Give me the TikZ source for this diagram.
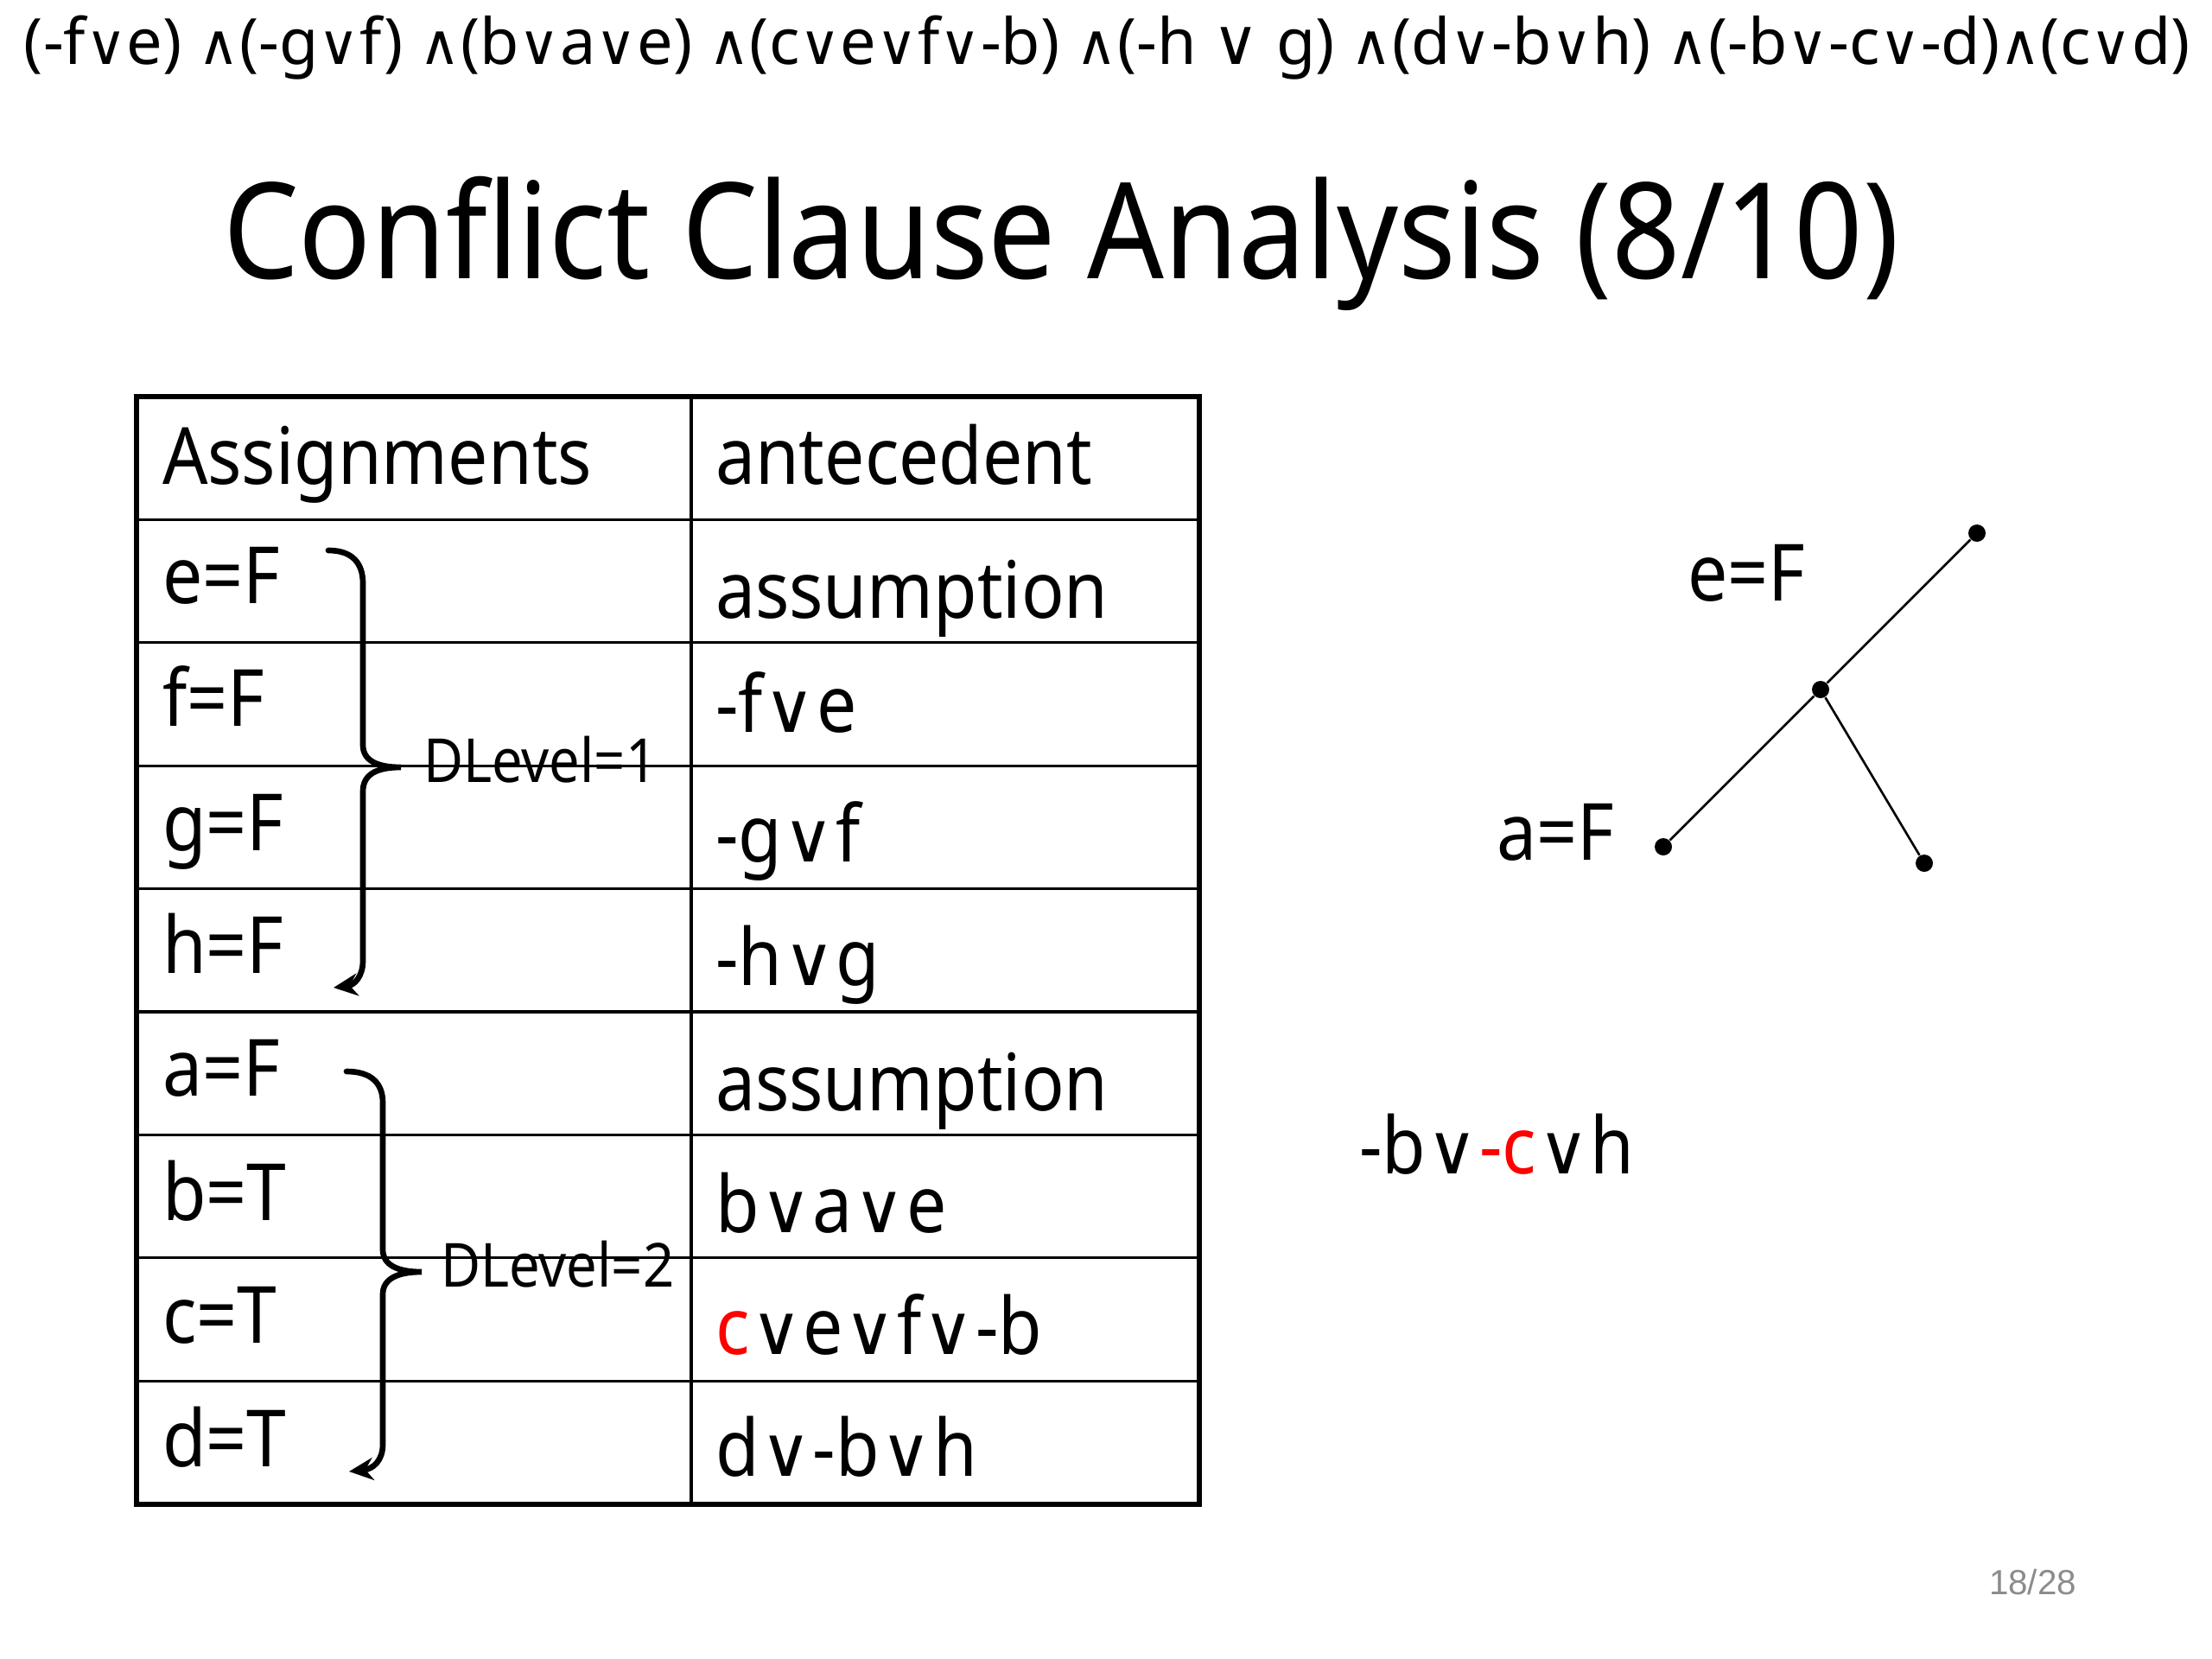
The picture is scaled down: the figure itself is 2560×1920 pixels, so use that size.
\documentclass[tikz,border=0pt]{standalone}
\usepackage{fontspec}
\setmainfont[FakeStretch=0.9]{Noto Sans}
\newfontfamily\plainfont{Noto Sans}
\newfontfamily\symfont[Scale=0.88]{DejaVu Sans}
\newfontfamily\bigsymfont{DejaVu Sans}
\newfontfamily\pagefont{Liberation Sans}
\newcommand{\orv}{{\kern0.02em\symfont ∨\kern0.02em}}
\newcommand{\orf}{{\symfont ∨}}
\newcommand{\andv}{{\symfont ∧}}
\usepackage{tikz}
\usetikzlibrary{positioning}
\usetikzlibrary{arrows.meta}
\definecolor{pagegray}{gray}{0.55}
\tikzset{
    txt/.style = {anchor=base west, inner sep=0pt, outer sep=0pt},
    asg/.style = {txt, font=\fontsize{26}{30}\selectfont},
    ante/.style = {txt, font=\fontsize{26}{30}\selectfont},
    dlvl/.style = {txt, font=\fontsize{20}{24}\selectfont},
    dot/.style = {circle, fill=black, inner sep=0pt, minimum size=2mm},
    edgen/.style = {line width=0.75pt},
    tblout/.style = {line width=1.9pt},
    tblin/.style = {line width=0.9pt},
    bracearr/.style = {line width=1.9pt, -{Stealth[length=2.8mm,width=2.6mm]}, line cap=round}
}

\begin{document}
\begin{tikzpicture}[x=0.1mm, y=-0.1mm]
  \useasboundingbox (0,0) rectangle (2560,1920);

  % formula and title
  \node[txt, font=\plainfont\fontsize{21}{25}\selectfont] (formula) at (28,74)
    {(-f\orf{}e) \andv(-g\orf{}f) \andv(b\orf{}a\orf{}e) \andv(c\orf{}e\orf{}f\orf{}-b) \andv(-h {\bigsymfont ∨} g) \andv(d\orf{}-b\orf{}h) \andv(-b\orf{}-c\orf{}-d)\andv(c\orf{}d)};
  \node[txt, font=\fontsize{44}{52}\selectfont] (title) at (258,322) {Conflict Clause Analysis (8/10)};

  % table
  \draw[tblin] (800,459) -- (800,1741);
  \foreach \r in {1,...,8}
    \draw[tblin] (158,459+142.4*\r) -- (1388,459+142.4*\r);
  \draw[tblout] (158,459) rectangle (1388,1741);

  \node[asg] (hA) at (188,560) {Assignments};
  \node[ante] (hB) at (828,560) {antecedent};

  \node[asg] (e) at (188,698) {e=F};
  \node[asg] (f) at (188,840) {f=F};
  \node[asg] (g) at (188,984) {g=F};
  \node[asg] (h) at (188,1126) {h=F};
  \node[asg] (a) at (188,1268) {a=F};
  \node[asg] (b) at (188,1412) {b=T};
  \node[asg] (c) at (188,1554) {c=T};
  \node[asg] (d) at (188,1697) {d=T};

  \node[ante] (ae) at (828,715) {assumption};
  \node[ante] (af) at (828,847) {-f\orv{}e};
  \node[ante] (ag) at (828,997) {-g\orv{}f};
  \node[ante] (ah) at (828,1140) {-h\orv{}g};
  \node[ante] (aa) at (828,1285) {assumption};
  \node[ante] (ab) at (828,1426) {b\orv{}a\orv{}e};
  \node[ante] (ac) at (828,1567) {\textcolor{red}{c}\orv{}e\orv{}f\orv{}-b};
  \node[ante] (ad) at (828,1708) {d\orv{}-b\orv{}h};

  % decision level braces
  \coordinate (tip1) at (464,888);
  \coordinate (tip2) at (488,1472);
  \draw[bracearr] (380,637) .. controls (408,637) and (420,652) .. (420,675) -- (420,862)
    .. controls (420,880) and (436,888) .. (tip1)
    .. controls (436,888) and (420,896) .. (420,916) -- (420,1112)
    .. controls (420,1130) and (410,1140) .. (386,1143);
  \draw[bracearr] (401,1240) .. controls (430,1240) and (443,1254) .. (443,1276) -- (443,1446)
    .. controls (443,1464) and (460,1472) .. (tip2)
    .. controls (460,1472) and (443,1480) .. (443,1498) -- (443,1672)
    .. controls (443,1690) and (432,1700) .. (404,1703);
  \node[dlvl] (dl1) at (490,905) {DLevel=1};
  \node[dlvl] (dl2) at (510,1489) {DLevel=2};

  % implication graph
  \node[dot] (top) at (2288,617) {};
  \node[dot] (mid) at (2107,798) {};
  \node[dot] (lft) at (1925,980) {};
  \node[dot] (rgt) at (2227,999) {};
  \draw[edgen] (top) -- (mid);
  \draw[edgen] (mid) -- (lft);
  \draw[edgen] (mid) -- (rgt);
  \node[asg] (lblE) at (1953,695) {e=F};
  \node[asg] (lblA) at (1732,995) {a=F};

  \node[asg] (learnt) at (1573,1358) {-b\orv{}\textcolor{red}{-c}\orv{}h};

  \node[txt, font=\pagefont\fontsize{11.5}{13}\selectfont, text=pagegray] (page) at (2302,1845) {18/28};
\end{tikzpicture}
\end{document}
